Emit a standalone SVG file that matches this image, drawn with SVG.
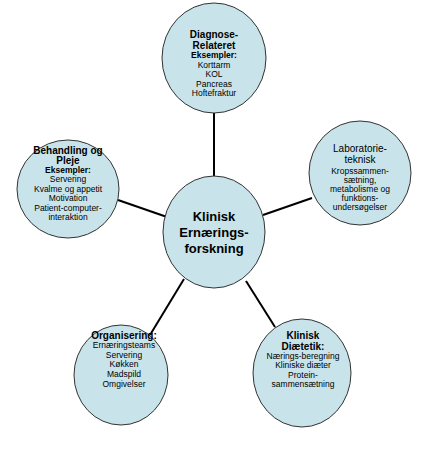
<svg xmlns="http://www.w3.org/2000/svg" width="428" height="468" viewBox="0 0 428 468">
<style>
.n{fill:#c8e4ea;stroke:#333;stroke-width:1}
text{font-family:"Liberation Sans",Arial,sans-serif;text-anchor:middle;fill:#000}
.b{font-weight:bold;font-size:10px}
.h{font-weight:bold;font-size:8.5px}
.t{font-size:8.5px}
.l{font-size:10px}
.c{font-weight:bold;font-size:13px}
.e{stroke:#000;stroke-width:2;fill:none}
</style>
<rect width="428" height="468" fill="#fff"/>
<g id="connectors">
<line class="e" x1="214" y1="113" x2="214" y2="177"/>
<line class="e" x1="263" y1="215" x2="312" y2="198"/>
<line class="e" x1="118" y1="200" x2="167" y2="217"/>
<line class="e" x1="184" y1="279" x2="150" y2="335"/>
<line class="e" x1="246" y1="281" x2="275" y2="327"/>
</g>
<g id="center">
<ellipse class="n" cx="214" cy="232" rx="51" ry="56"/>
<text class="c" x="214" y="221">Klinisk</text>
<text class="c" x="214" y="237">Ernærings-</text>
<text class="c" x="214" y="253">forskning</text>
</g>
<g id="diagnose">
<ellipse class="n" cx="214" cy="58" rx="52" ry="55"/>
<text class="b" x="214" y="38">Diagnose-</text>
<text class="b" x="214" y="49">Relateret</text>
<text class="h" x="214" y="58">Eksempler:</text>
<text class="t" x="214" y="68">Korttarm</text>
<text class="t" x="214" y="77">KOL</text>
<text class="t" x="214" y="87">Pancreas</text>
<text class="t" x="214" y="96">Hoftefraktur</text>
</g>
<g id="laboratorie">
<ellipse class="n" cx="360" cy="173" rx="51" ry="52"/>
<text class="l" x="360" y="152">Laboratorie-</text>
<text class="l" x="360" y="163">teknisk</text>
<text class="t" x="360" y="174">Kropssammen-</text>
<text class="t" x="360" y="183">sætning,</text>
<text class="t" x="360" y="192">metabolisme og</text>
<text class="t" x="360" y="201">funktions-</text>
<text class="t" x="360" y="210">undersøgelser</text>
</g>
<g id="behandling">
<ellipse class="n" cx="68" cy="189" rx="51" ry="49"/>
<text class="b" x="68" y="154">Behandling og</text>
<text class="b" x="68" y="164">Pleje</text>
<text class="h" x="68" y="173">Eksempler:</text>
<text class="t" x="68" y="182">Servering</text>
<text class="t" x="68" y="192">Kvalme og appetit</text>
<text class="t" x="68" y="201">Motivation</text>
<text class="t" x="68" y="211">Patient-computer-</text>
<text class="t" x="68" y="220">interaktion</text>
</g>
<g id="organisering">
<ellipse class="n" cx="121" cy="375" rx="47" ry="50"/>
<text class="b" x="124" y="339">Organisering:</text>
<text class="t" x="124" y="348">Ernæringsteams</text>
<text class="t" x="124" y="358">Servering</text>
<text class="t" x="124" y="367">Køkken</text>
<text class="t" x="124" y="377">Madspild</text>
<text class="t" x="124" y="387">Omgivelser</text>
</g>
<g id="diaetetik">
<ellipse class="n" cx="302" cy="373" rx="49" ry="54"/>
<text class="b" x="303" y="339">Klinisk</text>
<text class="b" x="303" y="350">Diætetik:</text>
<text class="t" x="303" y="359">Nærings-beregning</text>
<text class="t" x="303" y="368">Kliniske diæter</text>
<text class="t" x="303" y="378">Protein-</text>
<text class="t" x="303" y="387">sammensætning</text>
</g>
</svg>
